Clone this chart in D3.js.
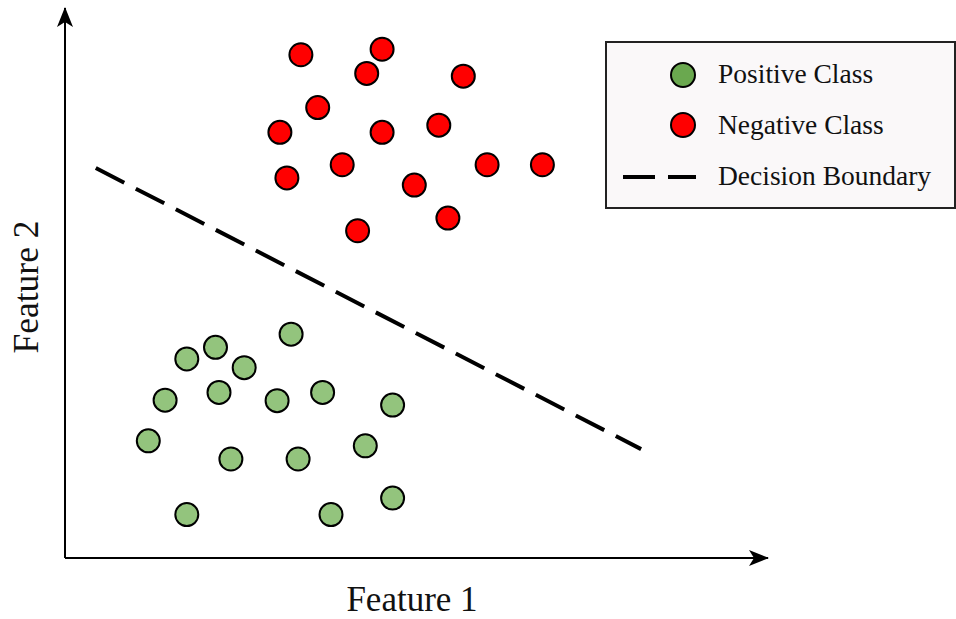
<!DOCTYPE html>
<html>
<head>
<meta charset="utf-8">
<script src="https://cdn.jsdelivr.net/npm/d3@7.9.0/dist/d3.min.js"></script>
<style>
  html, body { margin: 0; padding: 0; background: #fff; }
  svg { display: block; }
  text { font-family: "Liberation Serif", "DejaVu Serif", serif; fill: #111; }
</style>
</head>
<body>
<svg id="chart" width="956" height="619"></svg>
<script>
// feature space runs 0..10 on both axes
const positiveX = [3.23, 2.15, 1.74, 2.56, 2.20, 1.43, 3.03, 3.68, 4.68, 1.19, 2.37, 3.33, 4.29, 1.74, 3.80, 4.68];
const positiveY = [4.07, 3.83, 3.62, 3.46, 3.01, 2.87, 2.86, 3.01, 2.78, 2.13, 1.80, 1.80, 2.04, 0.79, 0.79, 1.09];
const negativeX = [3.37, 4.53, 4.31, 5.69, 3.61, 3.07, 4.53, 5.34, 3.96, 3.17, 4.99, 6.03, 6.82, 5.47, 4.18];
const negativeY = [9.15, 9.25, 8.81, 8.76, 8.19, 7.74, 7.74, 7.87, 7.15, 6.91, 6.78, 7.15, 7.15, 6.18, 5.95];
const boundaryX = [0.44, 8.23];
const boundaryY = [7.09, 1.98];
const legendLabels = ['Positive Class', 'Negative Class', 'Decision Boundary'];

const svg = d3.select('#chart');
const x = d3.scaleLinear().domain([0, 10]).range([65, 765]);
const y = d3.scaleLinear().domain([0, 10]).range([558, 8]);

// arrow head shape
svg.append('defs').append('marker')
  .attr('id', 'arrow')
  .attr('viewBox', '0 0 20 16')
  .attr('refX', 19).attr('refY', 8)
  .attr('markerWidth', 20).attr('markerHeight', 16)
  .attr('markerUnits', 'userSpaceOnUse')
  .attr('orient', 'auto')
  .append('path')
  .attr('d', 'M0,0 L20,8 L0,16 L5,8 Z')
  .attr('fill', '#000');

// axes
svg.append('line')
  .attr('x1', x(0)).attr('y1', y(0)).attr('x2', x(0)).attr('y2', y(10))
  .attr('stroke', '#000').attr('stroke-width', 2)
  .attr('marker-end', 'url(#arrow)');
svg.append('line')
  .attr('x1', x(0)).attr('y1', y(0)).attr('x2', x(10) + 3).attr('y2', y(0))
  .attr('stroke', '#000').attr('stroke-width', 2)
  .attr('marker-end', 'url(#arrow)');

// axis titles
svg.append('text')
  .attr('x', 412).attr('y', 611)
  .attr('text-anchor', 'middle')
  .attr('font-size', 35)
  .text('Feature 1');
svg.append('text')
  .attr('transform', 'translate(38,287) rotate(-90)')
  .attr('text-anchor', 'middle')
  .attr('font-size', 35.5)
  .text('Feature 2');

// decision boundary
svg.append('line')
  .attr('x1', x(boundaryX[0])).attr('y1', y(boundaryY[0]))
  .attr('x2', x(boundaryX[1])).attr('y2', y(boundaryY[1]))
  .attr('stroke', '#000').attr('stroke-width', 4)
  .attr('stroke-dasharray', '32 13');

// points
svg.append('g').selectAll('circle')
  .data(d3.zip(negativeX, negativeY))
  .join('circle')
  .attr('cx', d => x(d[0])).attr('cy', d => y(d[1]))
  .attr('r', 11.5)
  .attr('fill', '#ff0000').attr('stroke', '#000').attr('stroke-width', 2);

svg.append('g').selectAll('circle')
  .data(d3.zip(positiveX, positiveY))
  .join('circle')
  .attr('cx', d => x(d[0])).attr('cy', d => y(d[1]))
  .attr('r', 11.5)
  .attr('fill', '#93c47d').attr('stroke', '#000').attr('stroke-width', 2);

// legend
const legend = svg.append('g').attr('transform', 'translate(606,42)');
legend.append('rect')
  .attr('width', 349).attr('height', 166)
  .attr('fill', '#faf8f9').attr('stroke', '#222').attr('stroke-width', 2);

legend.append('circle').attr('cx', 77).attr('cy', 33).attr('r', 12)
  .attr('fill', '#6aa84f').attr('stroke', '#000').attr('stroke-width', 2);
legend.append('circle').attr('cx', 77).attr('cy', 83).attr('r', 12)
  .attr('fill', '#ff0000').attr('stroke', '#000').attr('stroke-width', 2);
legend.append('line')
  .attr('x1', 17).attr('y1', 135).attr('x2', 90).attr('y2', 135)
  .attr('stroke', '#000').attr('stroke-width', 4)
  .attr('stroke-dasharray', '32 13');

legend.selectAll('text.lbl')
  .data(legendLabels)
  .join('text')
  .attr('class', 'lbl')
  .attr('x', 112)
  .attr('y', (d, i) => 41 + i * 51)
  .attr('font-size', 27.5)
  .text(d => d);
</script>
</body>
</html>
